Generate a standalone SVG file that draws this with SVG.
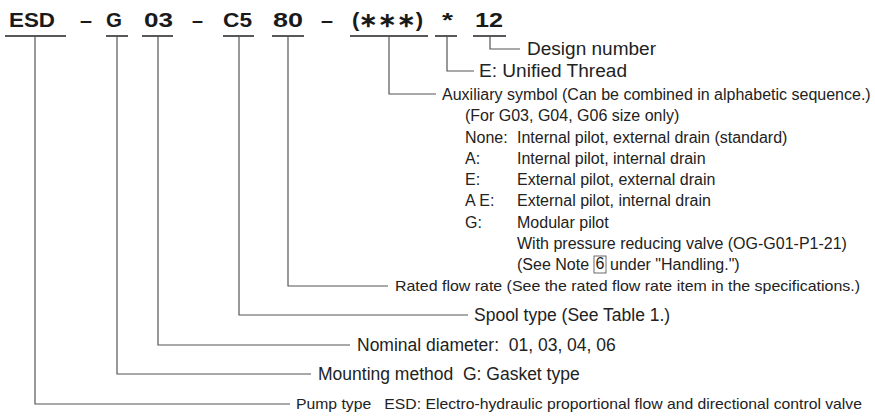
<svg xmlns="http://www.w3.org/2000/svg" width="875" height="417" viewBox="0 0 875 417">
<style>
text{white-space:pre}
.code{font-family:"Liberation Sans",Arial,sans-serif;font-weight:bold;font-size:20px;fill:#1a1a1a}
.ul{stroke:#222;stroke-width:1.3;fill:none}
.ln{stroke:#555;stroke-width:1.2;fill:none}
.t{font-family:"Liberation Sans",Arial,sans-serif;font-size:17.5px;fill:#222}
.m{font-family:"Liberation Sans",Arial,sans-serif;font-size:16px;fill:#222}
.s{font-family:"Liberation Sans",Arial,sans-serif;font-size:15px;fill:#222}
</style>
<rect width="875" height="417" fill="#fff"/>
<g id="code">
<text class="code" x="9" y="27" textLength="46" lengthAdjust="spacingAndGlyphs">ESD</text>
<text class="code" x="80" y="27" textLength="12" lengthAdjust="spacingAndGlyphs">–</text>
<text class="code" x="106" y="27" textLength="16" lengthAdjust="spacingAndGlyphs">G</text>
<text class="code" x="144" y="27" textLength="29" lengthAdjust="spacingAndGlyphs">03</text>
<text class="code" x="192" y="27" textLength="11" lengthAdjust="spacingAndGlyphs">–</text>
<text class="code" x="223" y="27" textLength="29" lengthAdjust="spacingAndGlyphs">C5</text>
<text class="code" x="273" y="27" textLength="30" lengthAdjust="spacingAndGlyphs">80</text>
<text class="code" x="321" y="27" textLength="12" lengthAdjust="spacingAndGlyphs">–</text>
<text class="code" x="352" y="27" textLength="71" lengthAdjust="spacingAndGlyphs">(∗∗∗)</text>
<text class="code" x="442" y="27" textLength="11" lengthAdjust="spacingAndGlyphs">*</text>
<text class="code" x="475" y="27" textLength="28" lengthAdjust="spacingAndGlyphs">12</text>
<path class="ul" d="M5 36H66M106 36H128M142 36H173M223 36H254M272 36H304M350 36H428M435 36H457M473 36H506"/>
</g>
<g id="connectors">
<path class="ln" d="M490 36V49H520"/>
<path class="ln" d="M447 36V71H474"/>
<path class="ln" d="M389 36V94H436"/>
<path class="ln" d="M288 36V286H388"/>
<path class="ln" d="M239 36V315H468"/>
<path class="ln" d="M158 36V345H350"/>
<path class="ln" d="M117 36V374H311"/>
<path class="ln" d="M35 36V404H290"/>
</g>
<g id="design-number">
<text class="t" x="527" y="55" textLength="129" lengthAdjust="spacingAndGlyphs">Design number</text>
</g>
<g id="unified-thread">
<text class="t" x="479" y="77" textLength="148" lengthAdjust="spacingAndGlyphs">E: Unified Thread</text>
</g>
<g id="auxiliary-symbol">
<text class="m" x="442" y="100">Auxiliary symbol (Can be combined in alphabetic sequence.)</text>
<text class="m" x="465" y="121">(For G03, G04, G06 size only)</text>
<text class="m" x="465" y="142.5">None:</text>
<text class="m" x="517" y="142.5">Internal pilot, external drain (standard)</text>
<text class="m" x="465" y="164">A:</text>
<text class="m" x="517" y="164">Internal pilot, internal drain</text>
<text class="m" x="465" y="185">E:</text>
<text class="m" x="517" y="185">External pilot, external drain</text>
<text class="m" x="465" y="206">A E:</text>
<text class="m" x="517" y="206">External pilot, internal drain</text>
<text class="m" x="465" y="227.5">G:</text>
<text class="m" x="517" y="227.5">Modular pilot</text>
<text class="m" x="517" y="249">With pressure reducing valve (OG-G01-P1-21)</text>
<text class="m" x="517" y="270">(See Note</text>
<rect x="594" y="256" width="12" height="17" fill="none" stroke="#444" stroke-width="0.8"/>
<text class="m" x="600" y="269" text-anchor="middle" font-size="12">6</text>
<text class="m" x="610" y="270">under "Handling.")</text>
</g>
<g id="rated-flow-rate">
<text class="s" x="395" y="291" textLength="465" lengthAdjust="spacingAndGlyphs">Rated flow rate (See the rated flow rate item in the specifications.)</text>
</g>
<g id="spool-type">
<text class="t" x="474" y="321">Spool type (See Table 1.)</text>
</g>
<g id="nominal-diameter">
<text class="t" x="357" y="351">Nominal diameter:  01, 03, 04, 06</text>
</g>
<g id="mounting-method">
<text class="t" x="318" y="380">Mounting method  G: Gasket type</text>
</g>
<g id="pump-type">
<text class="s" x="296" y="409" textLength="566" lengthAdjust="spacingAndGlyphs">Pump type   ESD: Electro-hydraulic proportional flow and directional control valve</text>
</g>
</svg>
